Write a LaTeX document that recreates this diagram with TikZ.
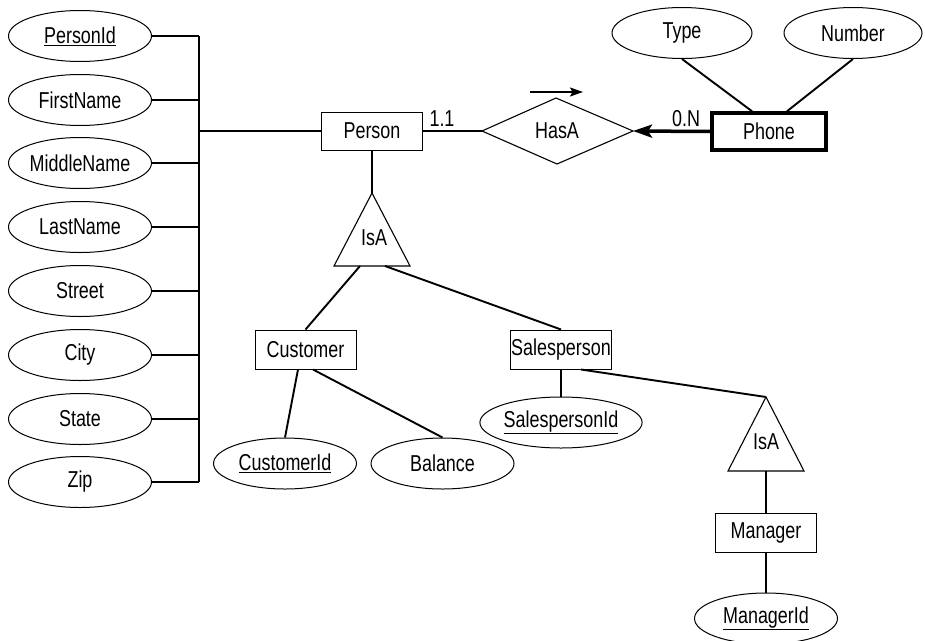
\documentclass[tikz,border=0pt]{standalone}
\usepackage{fontspec}
\setmainfont{Liberation Sans}[FakeStretch=0.78]
\usetikzlibrary{shapes.geometric,arrows.meta,calc}
\tikzset{
  txt/.style={font=\fontsize{23}{25}\selectfont},
  attr/.style={ellipse,draw,line width=1pt,inner sep=0pt,minimum width=143pt,minimum height=51pt,txt},
  ent/.style={rectangle,draw,line width=1pt,inner sep=0pt,minimum width=101pt,minimum height=39pt,txt},
  conn/.style={line width=1.9pt},
  shp/.style={line width=1.1pt,line join=miter}
}
\begin{document}
\begin{tikzpicture}[x=1pt,y=-1pt]
\useasboundingbox (0,0) rectangle (925,640);
% left attributes
\node[attr] (pid) at (80,36) {\underline{PersonId}};
\node[attr] (fn) at (80,100) {FirstName};
\node[attr] (mn) at (80,163) {MiddleName};
\node[attr] (ln) at (80,227) {LastName};
\node[attr] (st) at (80,291) {Street};
\node[attr] (ci) at (80,355) {City};
\node[attr] (sta) at (80,419) {State};
\node[attr] (zip) at (80,482) {Zip};
\coordinate (bar) at (199,0);
\foreach \n in {pid,fn,mn,ln,st,ci,sta,zip}{\draw[conn] (\n.east) -- (\n.east -| bar);}
\draw[conn] (pid.east -| bar) -- (zip.east -| bar);
% person
\node[ent,minimum height=38pt] (person) at (372,131) {Person};
\draw[conn] (person.west) -- (person.west -| bar);
% HasA
\coordinate (hw) at (482,131);
\coordinate (he) at (633,131);
\coordinate (hn) at (556,98);
\coordinate (hs) at (557,164);
\draw[shp] (hw) -- (hn) -- (he) -- (hs) -- cycle;
\node[txt] (hasa) at (557,131) {HasA};
\draw[conn] (person.east) -- (hw);
\node[txt] (l11) at (442,119) {1.1};
\node[txt] (l0n) at (686,119) {0.N};
\coordinate (ra1) at (530,92);
\coordinate (ra2) at (583,92);
\draw[line width=1.6pt,-{Stealth[length=13pt,width=9pt,inset=2.5pt]}] (ra1) -- (ra2);
% phone
\node[ent,line width=3.5pt,minimum width=114pt,minimum height=37pt] (phone) at (769,131.5) {Phone};
\draw[line width=3.5pt,-{Stealth[length=19pt,width=13pt,inset=4pt]}] (phone.west) -- (he);
\node[attr,minimum width=140pt] (type) at (682,33) {Type};
\node[attr,minimum width=138pt] (num) at (853,33) {Number};
\draw[conn] (type.south) -- ([xshift=-17pt]phone.north);
\draw[conn] (num.south) -- ([xshift=18pt]phone.north);
% IsA 1
\coordinate (isa1) at (372,193);
\coordinate (isa1l) at (360,266);
\coordinate (isa1r) at (385,266);
\draw[shp] (isa1) -- (410,266) -- (334,266) -- cycle;
\node[txt] (isa1t) at (374,238) {IsA};
\draw[conn] (person.south) -- (isa1);
% customer / salesperson
\node[ent] (cust) at (305.5,349.5) {Customer};
\node[ent] (sales) at (561,349.5) {Salesperson};
\draw[conn] (isa1l) -- (cust.north);
\draw[conn] (isa1r) -- (sales.north);
\node[attr] (cid) at (285,463.5) {\underline{CustomerId}};
\node[attr] (bal) at (442.5,463.5) {Balance};
\node[attr] (sid) at (561,422.5) {\underline{SalespersonId}};
\draw[conn] ([xshift=-7.5pt]cust.south) -- (cid.north);
\draw[conn] ([xshift=7.5pt]cust.south) -- (bal.north);
\draw[conn] (sales.south) -- (sid.north);
% IsA 2
\coordinate (isa2) at (766,397);
\coordinate (isa2b) at (766,471);
\draw[shp] (isa2) -- (804,471) -- (728,471) -- cycle;
\node[txt] (isa2t) at (766,442) {IsA};
\draw[conn] ([xshift=20pt]sales.south) -- (isa2);
\node[ent] (mgr) at (766,532.5) {Manager};
\draw[conn] (isa2b) -- (mgr.north);
\node[attr] (mid) at (766,618.5) {\underline{ManagerId}};
\draw[conn] (mgr.south) -- (mid.north);
\end{tikzpicture}
\end{document}
